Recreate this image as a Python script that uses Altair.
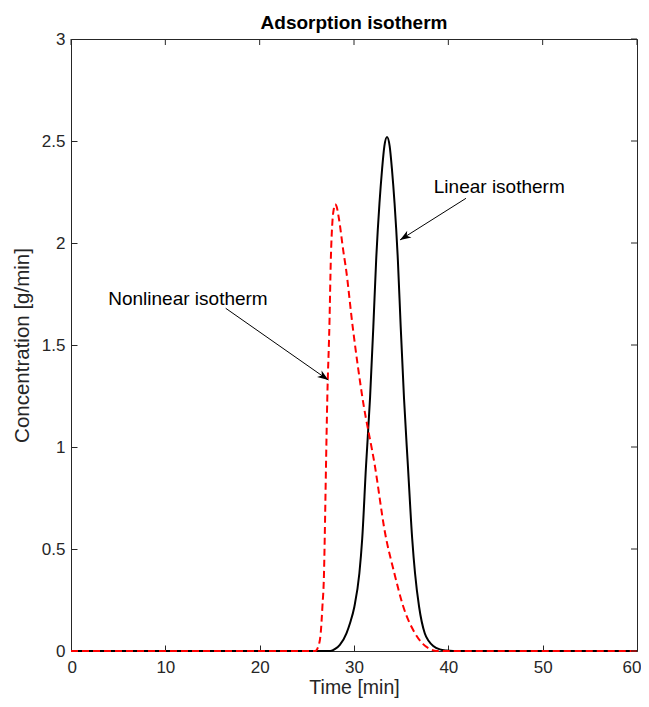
import altair as alt
import pandas as pd

# ---- data ----
time_linear = [0, 27.5, 28.0, 28.5, 29.2, 29.6, 30.04, 30.57, 30.87, 31.27, 31.7, 32.05, 32.35, 32.7, 32.97, 33.22,
               33.5, 33.78, 34.03, 34.3, 34.65, 34.95, 35.3, 35.72, 36.17, 36.47, 36.9, 37.5, 37.9, 38.4, 39.1, 39.8,
               40.5, 60]
conc_linear = [0, 0, 0.01, 0.03, 0.087, 0.14, 0.217, 0.381, 0.55, 0.903, 1.24, 1.59, 1.917, 2.195, 2.358, 2.475,
               2.52, 2.475, 2.358, 2.195, 1.917, 1.59, 1.24, 0.903, 0.55, 0.381, 0.217, 0.087, 0.05, 0.025, 0.008, 0.002,
               0, 0]

time_nonlinear = [0, 25.9, 26.2, 26.47, 26.65, 26.82, 26.9, 27.03, 27.17, 27.39, 27.55, 27.72, 27.87, 28.0, 28.15,
                  28.4, 28.9, 29.12, 29.86, 30.9, 32.23, 33.3, 34.28, 35.23, 36.47, 37.3, 38.06, 38.8, 60]
conc_nonlinear = [0, 0, 0.02, 0.087, 0.217, 0.381, 0.56, 0.903, 1.24, 1.59, 1.93, 2.11, 2.17, 2.19, 2.18,
                  2.12, 1.95, 1.884, 1.59, 1.24, 0.903, 0.577, 0.381, 0.217, 0.087, 0.035, 0.01, 0, 0]

x_ticks = [0, 10, 20, 30, 40, 50, 60]
y_ticks = [0, 0.5, 1, 1.5, 2, 2.5, 3]

chart_title = ["Adsorption isotherm"]
ann_label = ["Nonlinear isotherm", "Linear isotherm"]
ann_text_x = [12.4, 45.4]
ann_text_y = [1.725, 2.275]
arrow_x0 = [16.4, 41.87]
arrow_y0 = [1.68, 2.219]
arrow_x1 = [27.28, 34.88]
arrow_y1 = [1.328, 2.015]
arrow_angle = [34.9, 147.7]

lin = pd.DataFrame({"t": time_linear, "c": conc_linear})
non = pd.DataFrame({"t": time_nonlinear, "c": conc_nonlinear})
ann = pd.DataFrame({"t": ann_text_x, "c": ann_text_y, "label": ann_label,
                    "t0": arrow_x0, "c0": arrow_y0, "t1": arrow_x1, "c1": arrow_y1,
                    "angle": arrow_angle})
xt = pd.DataFrame({"t": x_ticks})
yt = pd.DataFrame({"c": y_ticks})
tt = pd.DataFrame({"title": chart_title})

W, H = 566, 612
xscale = alt.Scale(domain=[0, 60], nice=False, zero=False)
yscale = alt.Scale(domain=[0, 3], nice=False, zero=False)

TICK = 6
AX = "#262626"
common = dict(domain=False, grid=False, tickSize=TICK, offset=-TICK, tickColor=AX, tickWidth=1,
              labelColor=AX, labelFontSize=17, titleFontWeight="normal", titleColor=AX,
              labelFont="Liberation Sans", titleFont="Liberation Sans")

x_axis = alt.Axis(orient="bottom", values=x_ticks, format="d", title="Time [min]", titleFontSize=19.5,
                  labelPadding=8.5, titlePadding=3, labelFlush=True, labelFlushOffset=4, **common)
y_axis = alt.Axis(orient="left", values=y_ticks, format="~g", title="Concentration [g/min]", titleFontSize=20.5,
                  labelPadding=6, titlePadding=9, labelFlush=False, **common)


def X(field):
    return alt.X(field, type="quantitative", scale=xscale, axis=x_axis)


def Y(field):
    return alt.Y(field, type="quantitative", scale=yscale, axis=y_axis)


black = alt.Chart(lin).mark_line(color="black", strokeWidth=2, interpolate="monotone").encode(
    x=X("t"), y=Y("c"),
)
red = alt.Chart(non).mark_line(color="#ff0000", strokeWidth=2, strokeDash=[7, 4], interpolate="monotone").encode(
    x=X("t"), y=Y("c"),
)
# ticks on the top and right edges of the box (pointing inward)
top_ticks = alt.Chart(xt).mark_rule(color=AX, strokeWidth=1).encode(
    x=X("t"), y=alt.value(0), y2=alt.value(TICK),
)
right_ticks = alt.Chart(yt).mark_rule(color=AX, strokeWidth=1).encode(
    y=Y("c"), x=alt.value(W - TICK), x2=alt.value(W),
)
rules = alt.Chart(ann).mark_rule(color="black", strokeWidth=1).encode(
    x=X("t0"), y=Y("c0"), x2="t1:Q", y2="c1:Q",
)
heads = alt.Chart(ann).mark_point(shape="M0,0L-1,-0.36L-0.72,0L-1,0.36Z", filled=True, size=484,
                                  color="black", opacity=1, strokeWidth=0).encode(
    x=X("t1"), y=Y("c1"), angle=alt.Angle("angle:Q", scale=None),
)
texts = alt.Chart(ann).mark_text(fontSize=19, align="center", baseline="middle", color="black",
                                 font="Liberation Sans").encode(
    x=X("t"), y=Y("c"), text="label:N",
)
title = alt.Chart(tt).mark_text(fontSize=19, fontWeight="bold", align="center", baseline="alphabetic",
                                color="black", font="Liberation Sans").encode(
    x=alt.value(W / 2), y=alt.value(-10), text="title:N",
)

chart = alt.layer(black, red, top_ticks, right_ticks, rules, heads, texts, title).properties(
    width=W, height=H,
    autosize=alt.AutoSizeParams(type="none"),
    padding={"left": 63, "top": 31, "right": 4, "bottom": 48},
).configure(font="Liberation Sans").configure_view(stroke=AX, strokeWidth=1)

chart.save("out.html", embed_options={"renderer": "svg", "actions": False})
